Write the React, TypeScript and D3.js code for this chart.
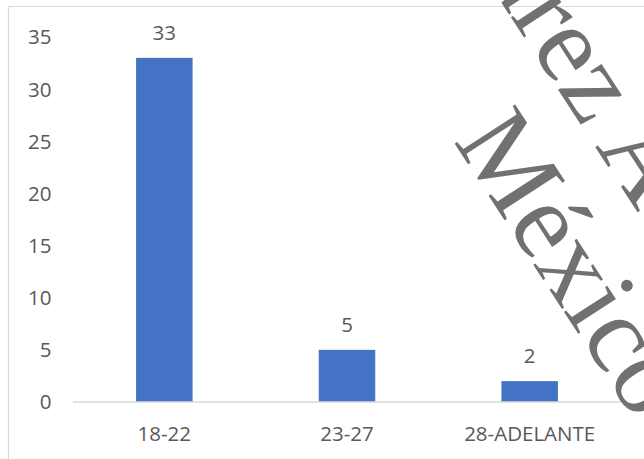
import React from "react";
import * as d3 from "d3";

const categories = ["18-22", "23-27", "28-ADELANTE"];
const values = [33, 5, 2];
const yTicks = [0, 5, 10, 15, 20, 25, 30, 35];
const watermarkLine1 = "Universidad Juárez Autónoma de Tabasco";
const watermarkLine2 = "México";

const W = 644;
const H = 459;

export default function App() {
  const x = d3.scaleBand<string>().domain(categories).range([73, 621]).paddingInner(0).paddingOuter(0);
  const y = d3.scaleLinear().domain([0, 35]).range([402, 37]);
  const barW = 56.5;
  const font = "'Open Sans', sans-serif";
  const fs = 20.5;
  const txt = "#595959";

  return (
    <svg width={W} height={H} style={{ position: "absolute", left: 0, top: 0, background: "#fff" }}>
      <rect x={0} y={0} width={W} height={H} fill="#fff" />
      {/* chart frame */}
      <line x1={8.5} x2={8.5} y1={6.5} y2={H} stroke="#d9d9d9" strokeWidth={1.2} />
      <line x1={8.5} x2={W} y1={6.5} y2={6.5} stroke="#d9d9d9" strokeWidth={1.2} />
      {/* y tick labels */}
      {yTicks.map((t) => (
        <text key={t} x={51.5} y={y(t)} dy="0.36em" textAnchor="end" fontFamily={font} fontSize={fs} fill={txt}>
          {t}
        </text>
      ))}
      {/* bars */}
      {categories.map((c, i) => {
        const cx = (x(c) as number) + x.bandwidth() / 2;
        return (
          <g key={c}>
            <rect x={cx - barW / 2} y={y(values[i])} width={barW} height={y(0) - y(values[i])} fill="#4472c4" />
            <text x={cx} y={y(values[i]) - 17.7} textAnchor="middle" fontFamily={font} fontSize={fs} fill={txt}>
              {values[i]}
            </text>
            <text x={cx} y={440.5} textAnchor="middle" fontFamily={font} fontSize={fs} fill={txt}>
              {c}
            </text>
          </g>
        );
      })}
      {/* x axis line */}
      <line x1={73} x2={621} y1={y(0)} y2={y(0)} stroke="#d9d9d9" strokeWidth={1.5} />
      {/* watermark */}
      <g transform="translate(453,141) rotate(57)" fontFamily="'Liberation Serif', 'Times New Roman', serif" fontSize={110} fill="#717171">
        <text x={0} y={0}>{watermarkLine2}</text>
        <text x={-786} y={-116}>{watermarkLine1}</text>
      </g>
    </svg>
  );
}
